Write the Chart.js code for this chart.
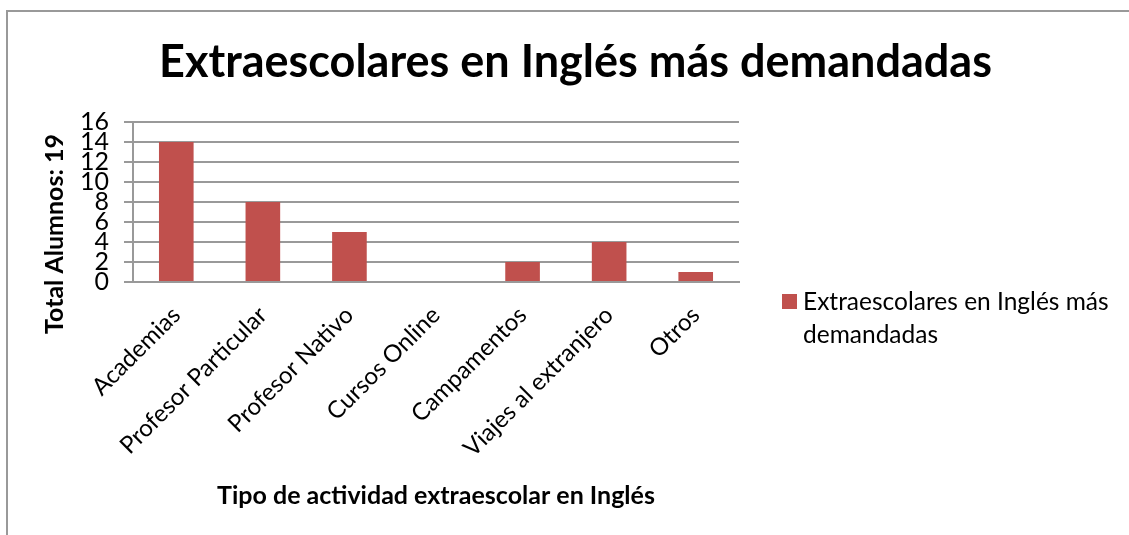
<!DOCTYPE html>
<html>
<head>
<meta charset="utf-8">
<script src="https://cdn.jsdelivr.net/npm/chart.js"></script>
<style>
html, body { margin: 0; padding: 0; background: #fff; overflow: hidden; }
#frame { position: absolute; left: 6px; top: 10px; width: 1200px; height: 600px; border: 2px solid #999; box-sizing: border-box; }
#wrap { position: absolute; left: 0; top: 0; width: 1129px; height: 535px; }
</style>
</head>
<body>
<div id="frame"></div>
<div id="wrap"><canvas id="canvas" width="1129" height="535"></canvas></div>
<script>
var chartTitle = 'Extraescolares en Inglés más demandadas';
var categories = ['Academias', 'Profesor Particular', 'Profesor Nativo', 'Cursos Online', 'Campamentos', 'Viajes al extranjero', 'Otros'];
var values = [14, 8, 5, 0, 2, 4, 1];
var seriesLabel = ['Extraescolares en Inglés más', 'demandadas'];
var xTitle = 'Tipo de actividad extraescolar en Inglés';
var yTitle = 'Total Alumnos: 19';
var yMin = 0, yMax = 16, yStep = 2;

var barColor = '#C0504D';
var gridColor = '#999999';
var FONT = 'Lato';

// y title and the right-hand legend are drawn here
var extras = {
	id: 'extras',
	afterDraw: function (chart) {
		var ctx = chart.ctx;
		var area = chart.chartArea;
		ctx.save();
		ctx.fillStyle = '#000';
		ctx.font = 'bold 25px ' + FONT;
		ctx.textAlign = 'center';
		ctx.textBaseline = 'middle';
		ctx.translate(55, (area.top + area.bottom) / 2 + 32);
		ctx.rotate(-Math.PI / 2);
		ctx.fillText(yTitle, 0, 0);
		ctx.restore();

		ctx.save();
		var lx = area.right + 43;
		var ly = 294;
		ctx.fillStyle = barColor;
		ctx.fillRect(lx, ly, 15, 15);
		ctx.fillStyle = '#000';
		ctx.font = '24.5px ' + FONT;
		ctx.textAlign = 'left';
		ctx.textBaseline = 'middle';
		seriesLabel.forEach(function (line, i) {
			ctx.fillText(line, lx + 21, ly + 8 + i * 33);
		});
		ctx.restore();
	}
};

window.onload = function () {
	var ctx = document.getElementById('canvas').getContext('2d');
	window.myBar = new Chart(ctx, {
		type: 'bar',
		data: {
			labels: categories,
			datasets: [{
				label: seriesLabel.join(' '),
				data: values,
				backgroundColor: barColor,
				borderWidth: 0,
				barPercentage: 0.4,
				categoryPercentage: 1.0
			}]
		},
		options: {
			responsive: false,
			animation: false,
			layout: { padding: { left: 22, right: 0, top: 0, bottom: 0 } },
			plugins: {
				legend: { display: false },
				tooltip: { enabled: false },
				title: {
					display: true,
					text: chartTitle,
					color: '#000',
					font: { family: FONT, size: 45, weight: 'bold', lineHeight: 1.2 },
					padding: { top: 35, bottom: 33 }
				}
			},
			scales: {
				x: {
					grid: { display: false },
					border: { display: true, color: gridColor, width: 2 },
					ticks: {
						color: '#000',
						font: { family: FONT, size: 24 },
						minRotation: 45,
						maxRotation: 45,
						autoSkip: false,
						padding: 11
					},
					title: {
						display: true,
						text: xTitle,
						color: '#000',
						font: { family: FONT, size: 25, weight: 'bold', lineHeight: 1.2 },
						padding: { top: 0, bottom: 24 }
					},
					afterFit: function (scale) { scale.height = 253; }
				},
				y: {
					min: yMin,
					max: yMax,
					grid: { color: gridColor, lineWidth: 2, tickLength: 9 },
					border: { display: true, color: gridColor, width: 2 },
					ticks: {
						stepSize: yStep,
						autoSkip: false,
						color: '#000',
						font: { family: FONT, size: 25, lineHeight: 1 },
						padding: 15
					},
					afterFit: function (scale) { scale.width = 111; }
				},
				spacer: {
					position: 'right',
					grid: { display: false },
					border: { display: false },
					ticks: { display: false },
					afterFit: function (scale) { scale.width = 390; }
				}
			}
		},
		plugins: [extras]
	});
};
</script>
</body>
</html>
